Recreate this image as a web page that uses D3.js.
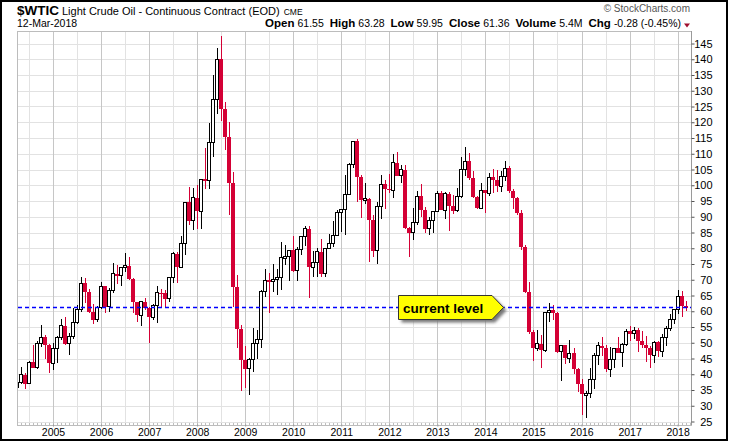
<!DOCTYPE html>
<html>
<head>
<meta charset="utf-8">
<script src="https://d3js.org/d3.v7.min.js"></script>
<style>
    body { margin: 0; background: #fff; }
    text { font-family: Arial, "Liberation Sans", sans-serif; }
</style>
</head>
<body>
<div id="d1"></div>
<script>
//Monthly candles, first one is Apr 2004, last one Mar 2018
const firstMonth = new Date(2004, 3, 1)

const opens = [
    35.76, 37.38, 39.88, 37.05, 43.80, 42.12, 49.64, 51.76, 49.13,
    43.45, 48.20, 51.75, 55.40, 49.72, 51.97, 56.50, 60.57, 68.94, 66.24, 59.76, 57.32,
    61.04, 67.92, 61.41, 66.63, 71.88, 71.29, 73.93, 74.40, 70.26, 62.91, 58.73, 62.97,
    61.05, 58.14, 61.79, 65.87, 65.71, 64.01, 70.68, 78.21, 74.04, 81.66, 94.53, 88.71,
    95.98, 91.75, 101.84, 101.58, 113.46, 127.35, 140.00, 124.08, 115.46, 100.64, 67.81, 54.43,
    44.60, 41.68, 44.76, 49.66, 51.12, 66.31, 69.89, 69.45, 69.96, 70.61, 77.00, 77.28,
    79.36, 72.89, 79.66, 83.76, 86.15, 73.97, 75.63, 78.95, 71.92, 79.97, 81.43, 84.11,
    91.38, 92.19, 96.97, 106.72, 113.93, 102.70, 95.42, 95.70, 88.81, 79.20, 93.19, 100.36,
    98.83, 98.48, 107.07, 103.02, 104.87, 86.53, 84.96, 88.06, 96.47, 92.19, 86.24, 88.91,
    91.82, 97.49, 92.05, 97.23, 93.46, 91.97, 96.56, 105.03, 107.65, 102.33, 96.38, 92.72,
    98.42, 97.49, 102.59, 101.58, 99.74, 102.71, 105.37, 98.17, 95.96, 91.16, 80.54, 66.15,
    53.27, 48.24, 49.76, 47.60, 59.63, 60.30, 59.47, 47.12, 49.20, 45.09, 46.59, 41.65,
    37.04, 33.62, 33.75, 38.34, 45.92, 49.10, 48.33, 41.60, 44.70, 48.24, 46.86, 49.44,
    53.72, 52.81, 54.01, 50.60, 49.33, 48.32, 46.04, 50.17, 47.23, 51.67, 54.38, 57.40,
    60.42, 64.73, 61.55
]
const highs = [
    38.38, 42.33, 40.50, 44.18, 49.40, 50.47, 55.67, 52.60, 49.60,
    50.00, 52.20, 57.60, 58.28, 53.10, 60.95, 62.10, 70.85, 70.70, 67.10, 62.30, 61.70,
    69.20, 67.90, 67.30, 75.35, 74.70, 73.95, 78.40, 77.20, 70.60, 62.95, 63.00, 64.20,
    61.30, 62.30, 68.10, 67.00, 66.80, 70.70, 78.80, 78.80, 83.90, 94.70, 99.30, 99.00,
    100.10, 102.10, 111.80, 119.90, 135.10, 143.70, 147.27, 126.50, 120.00, 104.10, 71.40, 55.50,
    49.00, 45.30, 54.70, 54.10, 66.70, 73.40, 72.00, 75.00, 73.40, 82.00, 81.10, 79.60,
    83.95, 80.50, 83.85, 87.15, 87.00, 79.20, 80.00, 82.90, 80.00, 84.40, 88.60, 92.10,
    92.60, 103.40, 106.95, 114.20, 114.80, 103.40, 100.60, 95.80, 90.50, 94.65, 103.40, 101.80,
    103.70, 109.80, 110.55, 106.40, 106.50, 86.90, 92.90, 98.30, 100.40, 93.00, 90.00, 91.00,
    98.20, 98.20, 97.80, 97.80, 97.00, 99.00, 108.90, 112.20, 110.20, 104.40, 96.50, 100.80,
    98.50, 104.00, 105.20, 104.99, 104.40, 107.70, 106.00, 98.70, 96.20, 92.00, 80.90, 69.40,
    54.00, 54.20, 52.50, 59.90, 62.60, 61.90, 59.70, 49.40, 49.30, 50.90, 48.40, 42.00,
    38.40, 34.80, 41.90, 46.80, 50.20, 51.70, 49.40, 48.80, 48.30, 51.90, 49.90, 54.50,
    55.24, 54.94, 54.60, 53.80, 52.00, 49.00, 50.40, 50.40, 52.90, 55.20, 59.05, 60.50,
    66.66, 66.30, 63.28
]
const lows = [
    33.75, 36.90, 35.35, 36.80, 42.05, 41.80, 48.50, 45.00, 40.25,
    41.25, 43.60, 51.00, 49.20, 46.20, 51.20, 55.90, 59.90, 62.60, 59.50, 56.10, 56.70,
    60.80, 59.50, 59.90, 65.80, 68.70, 67.90, 72.40, 69.90, 59.50, 56.60, 55.40, 60.50,
    49.90, 57.20, 56.30, 61.00, 61.50, 63.00, 69.00, 69.00, 73.90, 77.90, 87.30, 85.90,
    86.10, 86.10, 98.70, 98.70, 109.00, 122.60, 120.40, 111.30, 90.50, 61.30, 48.30, 34.80,
    35.50, 33.50, 40.80, 45.00, 48.30, 64.50, 59.50, 66.00, 65.10, 66.80, 74.60, 69.50,
    72.40, 69.50, 78.00, 80.60, 64.20, 70.80, 71.00, 70.80, 71.00, 79.80, 80.30, 84.00,
    85.10, 84.10, 96.90, 105.50, 94.60, 89.60, 94.00, 75.70, 77.10, 74.95, 89.20, 92.50,
    97.50, 96.00, 102.90, 100.70, 86.00, 77.30, 82.60, 87.50, 89.80, 84.90, 84.05, 84.70,
    91.60, 92.00, 89.30, 85.60, 90.90, 91.40, 95.90, 103.00, 101.60, 95.80, 92.50, 92.50,
    91.20, 96.50, 97.40, 97.90, 98.00, 101.40, 97.60, 92.50, 90.40, 79.40, 65.70, 52.70,
    44.20, 47.40, 42.00, 47.10, 56.50, 57.20, 46.70, 37.75, 43.20, 43.60, 40.00, 34.50,
    27.00, 26.05, 32.50, 35.20, 43.00, 45.80, 40.60, 39.20, 42.10, 46.60, 42.20, 49.00,
    50.70, 51.20, 47.10, 48.20, 43.80, 42.05, 43.60, 45.60, 45.60, 49.10, 53.80, 55.80,
    59.00, 58.07, 59.95
]
const closes = [
    37.38, 39.88, 37.05, 43.80, 42.12, 49.64, 51.76, 49.13, 43.45,
    48.20, 51.75, 55.40, 49.72, 51.97, 56.50, 60.57, 68.94, 66.24, 59.76, 57.32, 61.04,
    67.92, 61.41, 66.63, 71.88, 71.29, 73.93, 74.40, 70.26, 62.91, 58.73, 62.97, 61.05,
    58.14, 61.79, 65.87, 65.71, 64.01, 70.68, 78.21, 74.04, 81.66, 94.53, 88.71, 95.98,
    91.75, 101.84, 101.58, 113.46, 127.35, 140.00, 124.08, 115.46, 100.64, 67.81, 54.43, 44.60,
    41.68, 44.76, 49.66, 51.12, 66.31, 69.89, 69.45, 69.96, 70.61, 77.00, 77.28, 79.36,
    72.89, 79.66, 83.76, 86.15, 73.97, 75.63, 78.95, 71.92, 79.97, 81.43, 84.11, 91.38,
    92.19, 96.97, 106.72, 113.93, 102.70, 95.42, 95.70, 88.81, 79.20, 93.19, 100.36, 98.83,
    98.48, 107.07, 103.02, 104.87, 86.53, 84.96, 88.06, 96.47, 92.19, 86.24, 88.91, 91.82,
    97.49, 92.05, 97.23, 93.46, 91.97, 96.56, 105.03, 107.65, 102.33, 96.38, 92.72, 98.42,
    97.49, 102.59, 101.58, 99.74, 102.71, 105.37, 98.17, 95.96, 91.16, 80.54, 66.15, 53.27,
    48.24, 49.76, 47.60, 59.63, 60.30, 59.47, 47.12, 49.20, 45.09, 46.59, 41.65, 37.04,
    33.62, 33.75, 38.34, 45.92, 49.10, 48.33, 41.60, 44.70, 48.24, 46.86, 49.44, 53.72,
    52.81, 54.01, 50.60, 49.33, 48.32, 46.04, 50.17, 47.23, 51.67, 54.38, 57.40, 60.42,
    64.73, 61.64, 61.36
]

const yearLabels = ["2005", "2006", "2007", "2008", "2009", "2010", "2011",
    "2012", "2013", "2014", "2015", "2016", "2017", "2018"]
const priceTicks = [25, 30, 35, 40, 45, 50, 55, 60, 65, 70, 75, 80, 85, 90,
    95, 100, 105, 110, 115, 120, 125, 130, 135, 140, 145]

const currentLevel = 61.36
const calloutText = "current level"
const headerStats = [["Open", "61.55"], ["High", "63.28"], ["Low", "59.95"],
    ["Close", "61.36"], ["Volume", "5.4M"], ["Chg", "-0.28 (-0.45%)"]]

function d1() {
    const overall_width = 730
    const overall_height = 442
    //plot box inside the picture
    const plot = {l: 17, t: 31, r: 691, b: 424.5}
    const red = "#d40035"

    let svg = d3.select("#d1")
        .append("svg")
        .attr("width", overall_width)
        .attr("height", overall_height);

    //Background + outer frame
    svg.append("rect")
        .attr("width", "100%")
        .attr("height", "100%")
        .attr("fill", "#ffffff");
    svg.append("rect")
        .attr("x", 1).attr("y", 1)
        .attr("width", 726).attr("height", 439)
        .attr("fill", "none")
        .attr("stroke", "#000")
        .attr("stroke-width", 2);

    //Scales: one slot per month, index 0 = Jan 2005
    let scaleX = d3.scaleLinear().domain([0, 156]).range([53, 677.6]);
    let scaleY = d3.scaleLinear().domain([25, 145]).range([421.5, 43.5]);

    let months = d3.timeMonth.range(firstMonth, d3.timeMonth.offset(firstMonth, closes.length));
    let data = months.map(function(m, i) {
        return {
            idx: (m.getFullYear() - 2005) * 12 + m.getMonth(),
            o: opens[i], h: highs[i], l: lows[i], c: closes[i]
        }
    });
    let firstIdx = data[0].idx;

    //Grid
    let grid = svg.append("g").attr("shape-rendering", "crispEdges");
    grid.selectAll(".hgrid")
        .data(priceTicks)
        .join("line")
        .attr("x1", plot.l).attr("x2", plot.r)
        .attr("y1", d => Math.round(scaleY(d)) + 0.5)
        .attr("y2", d => Math.round(scaleY(d)) + 0.5)
        .attr("stroke", "#e2e2e2");

    let halfYears = d3.range(-6, 157, 6).filter(i => scaleX(i) > plot.l);
    grid.selectAll(".vgrid")
        .data(halfYears)
        .join("line")
        .attr("x1", d => Math.round(scaleX(d)) + 0.5)
        .attr("x2", d => Math.round(scaleX(d)) + 0.5)
        .attr("y1", plot.t).attr("y2", plot.b)
        .attr("stroke", d => d % 12 === 0 ? "#c6c6c6" : "#e2e2e2");

    //small month ticks on the bottom edge
    grid.selectAll(".mtick")
        .data(d3.range(firstIdx, 160))
        .join("line")
        .attr("x1", d => Math.round(scaleX(d)) + 0.5)
        .attr("x2", d => Math.round(scaleX(d)) + 0.5)
        .attr("y1", plot.b - 2).attr("y2", plot.b)
        .attr("stroke", "#bdbdbd");

    //plot frame
    grid.append("rect")
        .attr("x", plot.l + 0.5).attr("y", plot.t + 0.5)
        .attr("width", plot.r - plot.l).attr("height", plot.b - plot.t)
        .attr("fill", "none")
        .attr("stroke", "#bcbcbc");

    //Axes
    let axisY = d3.axisRight(scaleY).tickValues(priceTicks).tickSize(3).tickFormat(d => d);
    let gy = svg.append("g")
        .attr("transform", `translate(${plot.r + 0.5},0)`)
        .call(axisY);
    gy.select(".domain").attr("stroke", "#9a9a9a").attr("d", `M0,${plot.t}V${plot.b + 0.5}`);
    gy.selectAll(".tick line").attr("stroke", "#555");
    gy.selectAll(".tick text")
        .attr("x", 21)
        .attr("text-anchor", "end")
        .attr("font-size", "11px")
        .attr("font-family", "Arial, 'Liberation Sans', sans-serif")
        .attr("fill", "#000");

    let axisX = d3.axisBottom(scaleX)
        .tickValues(yearLabels.map((y, i) => i * 12))
        .tickSize(2)
        .tickFormat((d, i) => yearLabels[i]);
    let gx = svg.append("g")
        .attr("transform", `translate(0,${plot.b})`)
        .call(axisX);
    gx.select(".domain").remove();
    gx.selectAll(".tick line").attr("stroke", "#9a9a9a");
    gx.selectAll(".tick text")
        .attr("y", 11)
        .attr("dy", 0)
        .attr("font-size", "10.5px")
        .attr("font-family", "Arial, 'Liberation Sans', sans-serif")
        .attr("fill", "#000");

    //Candles
    svg.append("clipPath").attr("id", "plotclip")
        .append("rect")
        .attr("x", plot.l + 1).attr("y", plot.t)
        .attr("width", plot.r - plot.l - 1).attr("height", plot.b - plot.t);

    let candles = svg.append("g")
        .attr("clip-path", "url(#plotclip)")
        .attr("shape-rendering", "crispEdges");

    let bars = candles.selectAll(".candle")
        .data(data)
        .join("g")
        .attr("class", "candle");

    bars.append("line")
        .attr("x1", d => Math.round(scaleX(d.idx)) + 0.5)
        .attr("x2", d => Math.round(scaleX(d.idx)) + 0.5)
        .attr("y1", d => scaleY(d.h))
        .attr("y2", d => scaleY(d.l))
        .attr("stroke", d => d.c >= d.o ? "#000" : red)
        .attr("stroke-width", 1);

    bars.append("rect")
        .attr("x", d => d.c >= d.o ? Math.round(scaleX(d.idx)) - 1.5 : Math.round(scaleX(d.idx)) - 2)
        .attr("width", d => d.c >= d.o ? 3 : 4)
        .attr("y", d => scaleY(Math.max(d.o, d.c)))
        .attr("height", d => Math.max(Math.abs(scaleY(d.o) - scaleY(d.c)), 1.5))
        .attr("fill", d => d.c >= d.o ? "#fff" : red)
        .attr("stroke", d => d.c >= d.o ? "#000" : "none")
        .attr("stroke-width", 1);

    //Current level line
    let cy = scaleY(currentLevel);
    svg.append("line")
        .attr("x1", plot.l + 1).attr("x2", plot.r)
        .attr("y1", Math.round(cy) + 0.5).attr("y2", Math.round(cy) + 0.5)
        .attr("stroke", "#0000ff")
        .attr("stroke-width", 1.5)
        .attr("stroke-dasharray", "4,3");

    //Callout with shadow
    let defs = svg.append("defs");
    defs.append("filter").attr("id", "blur")
        .attr("x", "-20%").attr("y", "-50%").attr("width", "140%").attr("height", "200%")
        .append("feGaussianBlur").attr("stdDeviation", 1.6);

    const call = {x0: 398.5, x1: 492, tip: 503.5, half: 12}
    const calloutPath = function(dx, dy) {
        let yc = Math.round(cy) + 0.5 + dy;
        return `M${call.x0 + dx},${yc - call.half}L${call.x1 + dx},${yc - call.half}` +
            `L${call.tip + dx},${yc}L${call.x1 + dx},${yc + call.half}L${call.x0 + dx},${yc + call.half}Z`;
    }
    svg.append("path")
        .attr("d", calloutPath(3, 3))
        .attr("fill", "#777")
        .attr("filter", "url(#blur)");
    svg.append("path")
        .attr("d", calloutPath(0, 0))
        .attr("fill", "#ffff00")
        .attr("stroke", "#333")
        .attr("stroke-width", 1);
    svg.append("text")
        .attr("x", 403)
        .attr("y", Math.round(cy) + 5.5)
        .attr("font-size", "13.5px")
        .attr("font-weight", "bold")
        .attr("fill", "#000")
        .text(calloutText);

    //Header
    let head = svg.append("g");
    let title = head.append("text")
        .attr("x", 17).attr("y", 15)
        .attr("fill", "#000");
    title.append("tspan")
        .attr("font-size", "13.5px").attr("font-weight", "bold")
        .text("$WTIC");
    title.append("tspan")
        .attr("dx", 3).attr("font-size", "11px")
        .text("Light Crude Oil - Continuous Contract (EOD)");
    title.append("tspan")
        .attr("dx", 4).attr("font-size", "8.5px")
        .text("CME");

    head.append("text")
        .attr("x", 17).attr("y", 27)
        .attr("font-size", "10.5px")
        .attr("fill", "#000")
        .text("12-Mar-2018");

    let stats = head.append("text")
        .attr("x", 681).attr("y", 27)
        .attr("text-anchor", "end")
        .attr("fill", "#000");
    headerStats.forEach(function(s, i) {
        stats.append("tspan")
            .attr("dx", i === 0 ? 0 : 6)
            .attr("font-size", "11.5px").attr("font-weight", "bold")
            .text(s[0]);
        stats.append("tspan")
            .attr("dx", 3)
            .attr("font-size", "10.5px")
            .text(s[1]);
    });
    //little down arrow after the change
    head.append("path")
        .attr("d", "M684,23.5L690,23.5L687,27.5Z")
        .attr("fill", "#a0102e");

    head.append("text")
        .attr("x", 690).attr("y", 12)
        .attr("text-anchor", "end")
        .attr("font-size", "10px")
        .attr("fill", "#555")
        .text("\u00A9 StockCharts.com");
}
d1();
</script>
</body>
</html>
